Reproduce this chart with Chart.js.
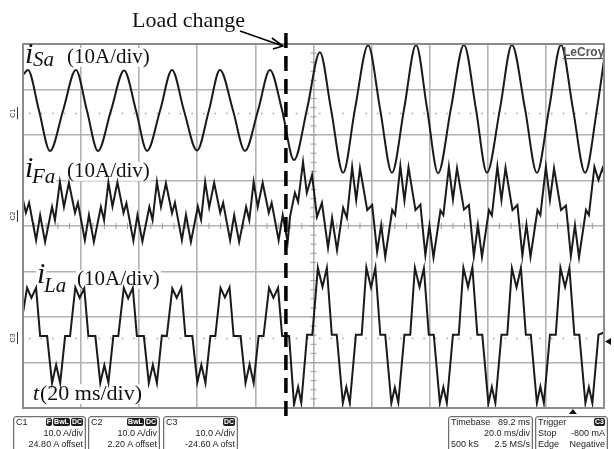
<!DOCTYPE html>
<html>
<head>
<meta charset="utf-8">
<script src="https://cdn.jsdelivr.net/npm/chart.js@4.4.1/dist/chart.umd.min.js"></script>
<style>
  html, body { margin: 0; padding: 0; background: #fff; }
  #wrap { position: relative; width: 614px; height: 449px; overflow: hidden; }
  canvas { display: block; }
  .info {
    position: absolute; top: 416px; height: 40px; box-sizing: border-box;
    border: 1px solid #707070; border-radius: 3px; box-shadow: inset 0 0 0 1px #d8d8d8;
    font: 9px "Liberation Sans", Arial, sans-serif; color: #222; line-height: 11px; padding: 0 2px;
  }
  .info .lr { display: flex; justify-content: space-between; white-space: nowrap; }
  .info .r { text-align: right; white-space: nowrap; }
  .info b {
    display: inline-block; background: #1e1e1e; color: #fff; font-size: 7px; line-height: 8px;
    border-radius: 2px; padding: 0 1px; margin-left: 1px; vertical-align: 1px;
  }
</style>
</head>
<body>
<div id="wrap">
  <canvas id="scope" width="614" height="449"></canvas>

  <div class="info" style="left:13px;width:73px">
    <div class="lr"><span>C1</span><span><b>F</b><b>BwL</b><b>DC</b></span></div>
    <div class="r">10.0 A/div</div>
    <div class="r">24.80 A offset</div>
  </div>
  <div class="info" style="left:88px;width:72px">
    <div class="lr"><span>C2</span><span><b>BwL</b><b>DC</b></span></div>
    <div class="r">10.0 A/div</div>
    <div class="r">2.20 A offset</div>
  </div>
  <div class="info" style="left:163px;width:75px">
    <div class="lr"><span>C3</span><span><b>DC</b></span></div>
    <div class="r">10.0 A/div</div>
    <div class="r">-24.60 A ofst</div>
  </div>
  <div class="info" style="left:448px;width:85px">
    <div class="lr"><span>Timebase</span><span>89.2 ms</span></div>
    <div class="r">20.0 ms/div</div>
    <div class="lr"><span>500 kS</span><span>2.5 MS/s</span></div>
  </div>
  <div class="info" style="left:535px;width:73px">
    <div class="lr"><span>Trigger</span><span><b>C3</b></span></div>
    <div class="lr"><span>Stop</span><span>-800 mA</span></div>
    <div class="lr"><span>Edge</span><span>Negative</span></div>
  </div>
</div>

<script>
// Phase-a currents around a load step: source, filter and load, 10 A/div, 20 ms/div.

// channel offsets (A) and trigger settings
const c1Offset = 24.8;
const c2Offset = 2.2;
const c3Offset = -24.6;
const triggerLevel = -0.8;   // A, on C3
const triggerAt = 189.3;     // ms
const loadChangeAt = 90.5;   // ms

// i_Sa, source current (C1)
const saTime = [0, 1.7, 5.5, 9.3, 13.8, 18.2, 22.0, 25.8, 30.3, 34.8,
  38.9, 42.7, 47.2, 51.3, 55.4, 59.9, 64.0, 67.8, 72.3, 76.4,
  80.9, 85.0, 89.2, 93.3, 97.8, 102.2, 106.0, 110.2, 114.3, 118.8,
  122.9, 127.0, 131.2, 135.3, 139.1, 142.9, 147.3, 151.8, 155.9, 159.7,
  164.2, 168.3, 172.8, 176.9, 181.1, 185.2, 189.3, 193.5, 197.6, 200.0];
const saAmps = [8.4, 9.5, 0.6, -8.3, 0.6, 9.5, 0.6, -8.3, 0.6, 9.4,
  0.6, -8.3, 0.6, 9.5, 0.6, -8.2, 0.6, 9.5, 0.6, -8.3,
  0.6, 9.5, 0.6, -10.3, 1.0, 13.4, 1.0, -13.1, 1.0, 14.9,
  1.0, -13.1, 1.0, 15.0, 1.0, -13.2, 1.0, 15.0, 1.0, -13.1,
  1.0, 15.0, 1.0, -13.1, 1.0, 15.0, 1.0, -13.1, 1.0, 11.7];

// i_Fa, filter current (C2)
const faTime = [0, 1.0, 2.1, 4.5, 5.9, 7.6, 10.0, 11.0,
  12.7, 14.1, 15.8, 17.9, 18.9, 21.3, 22.7, 24.4, 26.8, 27.9,
  29.4, 30.8, 32.5, 34.6, 35.6, 38.0, 39.4, 41.1, 43.5, 44.6,
  46.1, 47.5, 49.2, 51.3, 52.3, 54.7, 56.1, 57.8, 60.2, 61.3,
  62.7, 64.1, 65.8, 67.9, 68.9, 71.3, 72.7, 74.4, 76.8, 77.9,
  79.4, 80.8, 82.5, 84.6, 85.6, 88.0, 89.4, 91.1, 91.9, 93.6, 94.7,
  96.4, 97.7, 99.5, 101.2, 102.9, 105.0, 106.4, 108.1, 110.2, 111.5,
  113.3, 114.7, 116.0, 118.5, 120.2, 121.9, 123.3, 124.7, 127.1, 128.1,
  129.9, 131.3, 132.7, 135.1, 136.8, 138.5, 139.9, 141.3, 143.7, 144.7,
  146.6, 148.0, 149.4, 151.8, 153.5, 155.2, 156.6, 158.0, 160.4, 161.4,
  163.3, 164.7, 166.1, 168.5, 170.2, 171.9, 173.3, 174.7, 177.1, 178.1,
  180.0, 181.4, 182.8, 185.2, 186.9, 188.6, 190.0, 191.4, 193.8, 194.8,
  196.7, 198.1, 199.5, 200.0];
const faAmps = [3.5, 0.7, 2.9, -5.3, 0.2, -5.7, 2.0, -0.9,
  7.5, 2.0, 7.3, 0.7, 2.9, -5.3, 0.2, -5.7, 2.0, -0.9,
  7.4, 2.1, 7.4, 0.7, 2.8, -5.4, 0.2, -5.6, 2.0, -0.9,
  7.5, 2.0, 7.2, 0.6, 2.9, -5.3, 0.3, -5.7, 2.1, -0.8,
  7.5, 1.9, 7.3, 0.7, 2.9, -5.3, 0.2, -5.7, 2.0, -0.9,
  7.5, 2.0, 7.3, 0.7, 2.9, -5.3, 0.2, -5.7, -0.2, 5.1, 3.1,
  11.9, 5.1, 9.0, -0.2, 2.9, -7.0, -0.4, -7.5, 1.8, -0.4,
  10.8, 3.5, 10.5, 1.3, 2.4, -7.9, -2.0, -9.0, 1.3, 0.2,
  11.0, 3.4, 10.7, 1.3, 2.5, -8.6, -2.1, -9.1, 1.2, 0.2,
  10.8, 3.6, 10.5, 1.4, 2.4, -8.8, -2.0, -9.0, 1.3, 0.1,
  10.9, 3.5, 10.6, 1.3, 2.4, -8.7, -1.9, -9.0, 1.3, 0.2,
  10.8, 3.5, 10.5, 1.3, 2.3, -8.8, -2.0, -9.1, 1.3, 0.2,
  10.8, 7.9, 10.5, 9.5];

// i_La, load current (C3)
const laTime = [0, 1.4, 2.9, 4.5, 5.9, 8.3, 10.0, 11.4, 12.8, 14.5, 16.2,
  18.0, 19.5, 21.1, 22.5, 24.9, 26.6, 28.0, 29.4, 31.1, 32.8,
  34.7, 36.2, 37.8, 39.2, 41.6, 43.3, 44.7, 46.1, 47.8, 49.5,
  51.4, 52.9, 54.5, 55.9, 58.3, 60.0, 61.4, 62.8, 64.5, 66.2,
  68.0, 69.5, 71.1, 72.5, 74.9, 76.6, 78.0, 79.4, 81.1, 82.8,
  84.7, 86.2, 87.8, 89.2, 91.6, 93.3, 94.7, 95.8, 97.8, 99.6,
  101.5, 103.1, 104.6, 106.3, 108.0, 110.1, 111.3, 112.5, 114.6, 116.6,
  118.2, 119.8, 121.3, 123.0, 124.7, 126.8, 128.0, 129.2, 131.3, 133.3,
  134.9, 136.5, 138.0, 139.7, 141.4, 143.5, 144.7, 145.9, 148.0, 150.0,
  151.6, 153.2, 154.7, 156.4, 158.1, 160.2, 161.4, 162.6, 164.7, 166.7,
  168.3, 169.9, 171.4, 173.1, 174.8, 176.9, 178.1, 179.3, 181.4, 183.4,
  185.0, 186.6, 188.1, 189.8, 191.5, 193.6, 194.8, 196.0, 198.1, 200.0];
const laAmps = [5.5, 11.0, 8.8, 11.0, 0.4, 0.4, -9.9, -5.9, -9.9, 0.4, 0.4,
  11.1, 8.8, 10.9, 0.4, 0.4, -9.9, -6.0, -9.8, 0.4, 0.4,
  11.0, 8.7, 11.0, 0.4, 0.4, -9.9, -5.9, -9.9, 0.5, 0.4,
  10.9, 8.8, 11.0, 0.4, 0.4, -9.8, -5.9, -9.9, 0.4, 0.4,
  11.0, 8.9, 11.1, 0.4, 0.4, -9.9, -5.8, -9.9, 0.4, 0.4,
  11.0, 8.8, 11.0, 0.4, 0.4, -14.6, -10.8, -14.3, 0.7, 0.7,
  15.4, 11.2, 15.4, 0.7, 0.7, -14.3, -10.8, -14.3, 0.7, 0.7,
  15.5, 11.1, 15.4, 0.7, 0.7, -14.3, -10.9, -14.2, 0.7, 0.7,
  15.4, 11.2, 15.3, 0.7, 0.7, -14.3, -10.8, -14.3, 0.7, 0.7,
  15.4, 11.2, 15.5, 0.7, 0.7, -14.4, -10.8, -14.3, 0.7, 0.7,
  15.3, 11.1, 15.4, 0.7, 0.7, -14.3, -10.7, -14.3, 0.7, 0.7,
  15.4, 11.2, 15.4, 0.7, 0.7, -14.3, -10.8, -14.3, 0.7, 1.2];

function trace(times, amps, offset, smooth) {
  return {
    data: times.map((t, i) => ({ x: t, y: amps[i] + offset })),
    borderColor: '#1a1a1a',
    borderWidth: 2,
    pointRadius: 0,
    tension: 0,
    cubicInterpolationMode: smooth ? 'monotone' : 'default',
    fill: false
  };
}

const serif = '"Liberation Serif", "Times New Roman", serif';
const labels = [
  { text: 'i', size: 30, italic: true, x: 25, y: 63 },
  { text: 'Sa', size: 21, italic: true, x: 33, y: 66 },
  { text: '(10A/div)', size: 21, x: 67, y: 63 },
  { text: 'i', size: 30, italic: true, x: 25, y: 177 },
  { text: 'Fa', size: 21, italic: true, x: 32, y: 183 },
  { text: '(10A/div)', size: 21, x: 67, y: 177 },
  { text: 'i', size: 30, italic: true, x: 37, y: 283 },
  { text: 'La', size: 21, italic: true, x: 44, y: 292 },
  { text: '(10A/div)', size: 21, x: 77, y: 285 },
  { text: 't', size: 22, italic: true, x: 33, y: 400 },
  { text: '(20 ms/div)', size: 22, x: 40, y: 400 }
];

function labelFont(l) {
  return (l.italic ? 'italic ' : '') + l.size + 'px ' + serif;
}

const scopeDecor = {
  id: 'scopeDecor',
  beforeDatasetsDraw(chart) {
    const { ctx, chartArea: a, scales: { x, y } } = chart;
    ctx.save();

    // minor ticks along the centre cross
    ctx.strokeStyle = '#9a9a9a';
    ctx.lineWidth = 1;
    const cy = y.getPixelForValue(0);
    const cx = x.getPixelForValue(100);
    ctx.beginPath();
    for (let t = 0; t <= 200; t += 4) {
      const px = x.getPixelForValue(t);
      ctx.moveTo(px, cy - 3); ctx.lineTo(px, cy + 3);
    }
    for (let v = -40; v <= 40; v += 2) {
      const py = y.getPixelForValue(v);
      ctx.moveTo(cx - 3, py); ctx.lineTo(cx + 3, py);
    }
    ctx.stroke();

    // dotted zero references of C1 and C3
    ctx.strokeStyle = '#a0a0a0';
    ctx.lineWidth = 1.5;
    ctx.setLineDash([1.5, 10.1]);
    [c1Offset, c3Offset].forEach(off => {
      const py = Math.round(y.getPixelForValue(off)) + 0.5;
      ctx.beginPath(); ctx.moveTo(a.left + 6, py); ctx.lineTo(a.right, py); ctx.stroke();
    });
    ctx.setLineDash([]);

    // clear the grid behind the trace captions
    ctx.fillStyle = '#fff';
    labels.forEach(l => {
      ctx.font = labelFont(l);
      const w = ctx.measureText(l.text).width;
      ctx.fillRect(l.x - 1, l.y - l.size * 0.72, w + 2, l.size * 0.9);
    });
    ctx.restore();
  },
  afterDatasetsDraw(chart) {
    const { ctx, chartArea: a, scales: { x, y } } = chart;
    ctx.save();

    // screen frame
    ctx.strokeStyle = '#8c8c8c';
    ctx.lineWidth = 2;
    ctx.strokeRect(a.left, a.top, a.right - a.left, a.bottom - a.top);

    // trace captions
    ctx.fillStyle = '#111';
    ctx.textBaseline = 'alphabetic';
    labels.forEach(l => {
      ctx.font = labelFont(l);
      ctx.fillText(l.text, l.x, l.y);
    });

    // load change marker
    const lx = x.getPixelForValue(loadChangeAt);
    ctx.strokeStyle = '#000';
    ctx.lineWidth = 3.5;
    ctx.setLineDash([15, 8]);
    ctx.beginPath(); ctx.moveTo(lx, 33); ctx.lineTo(lx, 420); ctx.stroke();
    ctx.setLineDash([]);

    ctx.font = '22px ' + serif;
    ctx.fillText('Load change', 132, 27);
    ctx.lineWidth = 1.6;
    const tipX = lx - 3, tipY = 46;
    ctx.beginPath();
    ctx.moveTo(240, 31); ctx.lineTo(tipX, tipY);
    ctx.moveTo(tipX - 11, tipY - 8); ctx.lineTo(tipX, tipY); ctx.lineTo(tipX - 10, tipY + 3);
    ctx.stroke();

    // brand mark
    ctx.fillStyle = '#555';
    ctx.font = 'bold 12px "Liberation Sans", Arial, sans-serif';
    ctx.fillText('LeCroy', 563, 56);
    ctx.fillRect(563, 58, 40, 1.2);

    // channel markers on the left margin
    ctx.fillStyle = '#333';
    ctx.strokeStyle = '#333';
    ctx.lineWidth = 1;
    ctx.font = '7px "Liberation Sans", Arial, sans-serif';
    [['C1', c1Offset], ['C2', c2Offset], ['C3', c3Offset]].forEach(([name, off]) => {
      const py = y.getPixelForValue(off);
      ctx.save();
      ctx.translate(15, py);
      ctx.rotate(-Math.PI / 2);
      ctx.textAlign = 'center';
      ctx.fillText(name, 0, 0);
      ctx.restore();
      ctx.beginPath(); ctx.moveTo(17.5, py - 6); ctx.lineTo(17.5, py + 6); ctx.stroke();
    });

    // trigger level and trigger position
    ctx.fillStyle = '#111';
    const ty = y.getPixelForValue(c3Offset + triggerLevel);
    ctx.beginPath(); ctx.moveTo(a.right + 1, ty); ctx.lineTo(a.right + 7, ty - 3.5); ctx.lineTo(a.right + 7, ty + 3.5); ctx.fill();
    const tx = x.getPixelForValue(triggerAt);
    ctx.beginPath(); ctx.moveTo(tx, a.bottom + 1); ctx.lineTo(tx - 4, a.bottom + 6); ctx.lineTo(tx + 4, a.bottom + 6); ctx.fill();
    ctx.restore();
  }
};

const gridStyle = { color: '#b2b2b2', lineWidth: 1.6, drawTicks: false };

new Chart(document.getElementById('scope'), {
  type: 'line',
  data: {
    datasets: [
      trace(saTime, saAmps, c1Offset, true),
      trace(faTime, faAmps, c2Offset, false),
      trace(laTime, laAmps, c3Offset, false)
    ]
  },
  options: {
    responsive: false,
    animation: false,
    devicePixelRatio: 1,
    layout: { padding: { left: 23, right: 10, top: 44, bottom: 41 } },
    plugins: { legend: { display: false }, tooltip: { enabled: false } },
    scales: {
      x: {
        type: 'linear', min: 0, max: 200,
        ticks: { display: false, stepSize: 20 },
        grid: gridStyle,
        border: { display: false }
      },
      y: {
        min: -40, max: 40,
        ticks: { display: false, stepSize: 10 },
        grid: gridStyle,
        border: { display: false }
      }
    }
  },
  plugins: [scopeDecor]
});
</script>
</body>
</html>
